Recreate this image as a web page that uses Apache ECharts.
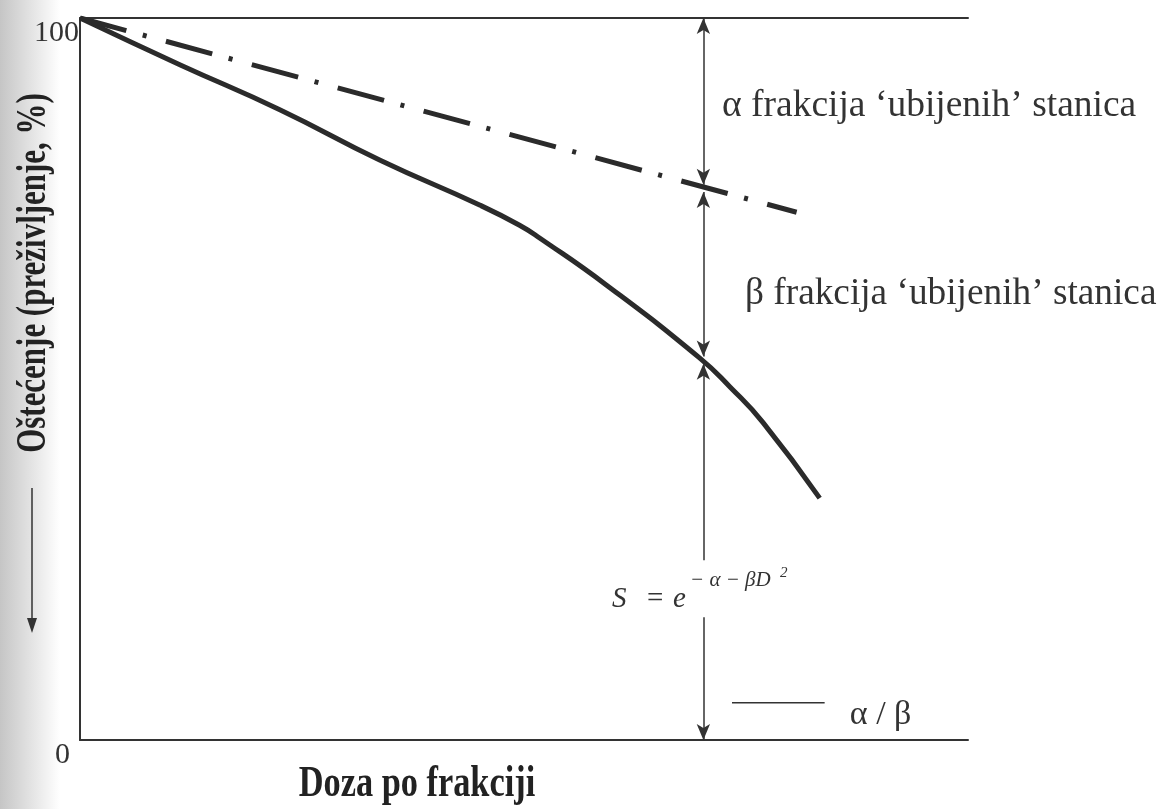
<!DOCTYPE html>
<html>
<head>
<meta charset="utf-8">
<title>Doza po frakciji</title>
<script src="https://cdn.jsdelivr.net/npm/echarts/dist/echarts.min.js"></script>
<style>
  html, body { margin: 0; padding: 0; background: #fff; }
  #chart { width: 1160px; height: 809px; }
</style>
</head>
<body>
<div id="chart"></div>
<script>
// puna krivulja: doza po frakciji (x) i preživljenje u % (y)
const doseCurve = [0, 11.3, 22.5, 33.8, 45.0, 49.5, 51.8, 59.3, 69.8, 73.2, 76.9, 83.3]
const survivalCurve = [100, 93.5, 87.3, 80.3, 74.1, 71.3, 69.5, 63.0, 52.9, 48.9, 44.0, 33.5]
// alfa komponenta (crta-točka)
const doseAlpha = [0, 80.7]
const survivalAlpha = [100, 73.1]
// okomita strelica na dozi alfa/beta, odsječci [od, do] u %
const arrowDose = 70.2
const arrowSegments = [[100, 76.9], [75.9, 53.1], [52.1, 24.9], [17.0, 0]]
const yTicks = [0, 100]

const serif = '"Liberation Serif", "DejaVu Serif", serif'
const ink = '#2b2b2b'

const curveData = doseCurve.map((d, i) => [d, survivalCurve[i]])
const alphaData = doseAlpha.map((d, i) => [d, survivalAlpha[i]])

// strelice: vrh strelice samo na krajevima koji ga imaju u originalu
const arrowEnds = [['arrow', 'arrow'], ['arrow', 'arrow'], ['arrow', 'none'], ['none', 'arrow']]
const arrowLines = arrowSegments.map((s, i) => [
  { coord: [arrowDose, s[0]], symbol: arrowEnds[i][0] },
  { coord: [arrowDose, s[1]], symbol: arrowEnds[i][1] }
])

let myChart = echarts.init(document.getElementById('chart'))
myChart.setOption({
  animation: false,
  backgroundColor: '#fff',
  grid: { left: 80, right: 192, top: 18, bottom: 69 },
  legend: {
    data: ['α / β'],
    left: 727,
    top: 693,
    selectedMode: false,
    itemWidth: 93,
    itemHeight: 26,
    itemGap: 0,
    // tanka crta pri vrhu ikone, tekst ostaje niže
    icon: 'path://M0 0H93V1.6H0Z M0 26H0.1V26.1H0Z',
    itemStyle: { color: '#333', borderWidth: 0 },
    textStyle: {
      fontFamily: serif,
      fontSize: 34,
      color: '#333',
      padding: [0, 0, 0, 20]
    }
  },
  xAxis: [
    {
      type: 'value',
      min: 0,
      max: 100,
      axisLine: { show: true, lineStyle: { color: '#333', width: 2 } },
      axisTick: { show: false },
      axisLabel: { show: false },
      splitLine: { show: false }
    },
    {
      type: 'value',
      position: 'top',
      min: 0,
      max: 100,
      axisLine: { show: true, lineStyle: { color: '#333', width: 2 } },
      axisTick: { show: false },
      axisLabel: { show: false },
      splitLine: { show: false }
    }
  ],
  yAxis: {
    type: 'value',
    min: yTicks[0],
    max: yTicks[1],
    interval: yTicks[1] - yTicks[0],
    axisLine: { show: true, lineStyle: { color: '#333', width: 2 } },
    axisTick: { show: false },
    splitLine: { show: false },
    axisLabel: {
      margin: 1,
      verticalAlign: 'top',
      fontFamily: serif,
      fontSize: 30,
      color: '#333',
      formatter: v => (v === 0 ? '{z|0}' : String(v)),
      rich: {
        z: { fontFamily: serif, fontSize: 30, color: '#333', padding: [0, 9, 0, 0] }
      }
    }
  },
  series: [
    {
      name: 'S',
      type: 'line',
      data: curveData,
      smooth: 0.5,
      symbol: 'none',
      lineStyle: { color: ink, width: 5 }
    },
    {
      name: 'alfa',
      type: 'line',
      data: alphaData,
      symbol: 'none',
      lineStyle: { color: ink, width: 5, type: [48, 17, 4, 20], cap: 'butt' }
    },
    {
      name: 'α / β',
      type: 'line',
      data: [],
      symbol: 'none',
      color: '#333',
      lineStyle: { color: '#333', width: 1.5 },
      markLine: {
        silent: true,
        symbolSize: [10, 16],
        label: { show: false },
        lineStyle: { color: '#333', width: 1.5, type: 'solid' },
        emphasis: { disabled: true },
        data: arrowLines
      }
    }
  ],
  graphic: [
    // sjena skena uz lijevi rub
    {
      type: 'rect',
      z: -10,
      shape: { x: 0, y: 0, width: 60, height: 809 },
      style: {
        fill: new echarts.graphic.LinearGradient(0, 0, 1, 0, [
          { offset: 0, color: 'rgba(150,150,150,0.55)' },
          { offset: 1, color: 'rgba(150,150,150,0)' }
        ])
      }
    },
    {
      type: 'text',
      x: 722,
      y: 106,
      style: { text: 'α frakcija ‘ubijenih’ stanica', font: '37.5px ' + serif, fill: '#333', verticalAlign: 'middle' }
    },
    {
      type: 'text',
      x: 745,
      y: 294,
      style: { text: 'β frakcija ‘ubijenih’ stanica', font: '37.3px ' + serif, fill: '#333', verticalAlign: 'middle' }
    },
    // formula S = e^(-α-βD²)
    {
      type: 'text',
      x: 612,
      y: 599,
      style: { text: 'S', font: 'italic 29px ' + serif, fill: '#333', verticalAlign: 'middle' }
    },
    {
      type: 'text',
      x: 647,
      y: 599,
      style: { text: '=', font: '29px ' + serif, fill: '#333', verticalAlign: 'middle' }
    },
    {
      type: 'text',
      x: 673,
      y: 599,
      style: { text: 'e', font: 'italic 29px ' + serif, fill: '#333', verticalAlign: 'middle' }
    },
    {
      type: 'text',
      x: 690,
      y: 580,
      style: { text: '− α − βD', font: 'italic 21px ' + serif, fill: '#333', verticalAlign: 'middle' }
    },
    {
      type: 'text',
      x: 780,
      y: 573,
      style: { text: '2', font: 'italic 15px ' + serif, fill: '#333', verticalAlign: 'middle' }
    },
    // naslovi osi
    {
      type: 'text',
      x: 417,
      y: 785,
      scaleX: 0.78,
      style: { text: 'Doza po frakciji', font: 'bold 44px ' + serif, fill: '#222', align: 'center', verticalAlign: 'middle' }
    },
    {
      type: 'text',
      x: 34,
      y: 273,
      rotation: Math.PI / 2,
      scaleX: 0.72,
      style: { text: 'Oštećenje (preživljenje, %)', font: 'bold 43px ' + serif, fill: '#222', align: 'center', verticalAlign: 'middle' }
    },
    // strelica prema dolje uz naslov osi
    {
      type: 'line',
      shape: { x1: 32, y1: 488, x2: 32, y2: 622 },
      style: { stroke: '#333', lineWidth: 1.5 }
    },
    {
      type: 'polygon',
      shape: { points: [[27, 618], [37, 618], [32, 633]] },
      style: { fill: '#333' }
    }
  ]
})
</script>
</body>
</html>
